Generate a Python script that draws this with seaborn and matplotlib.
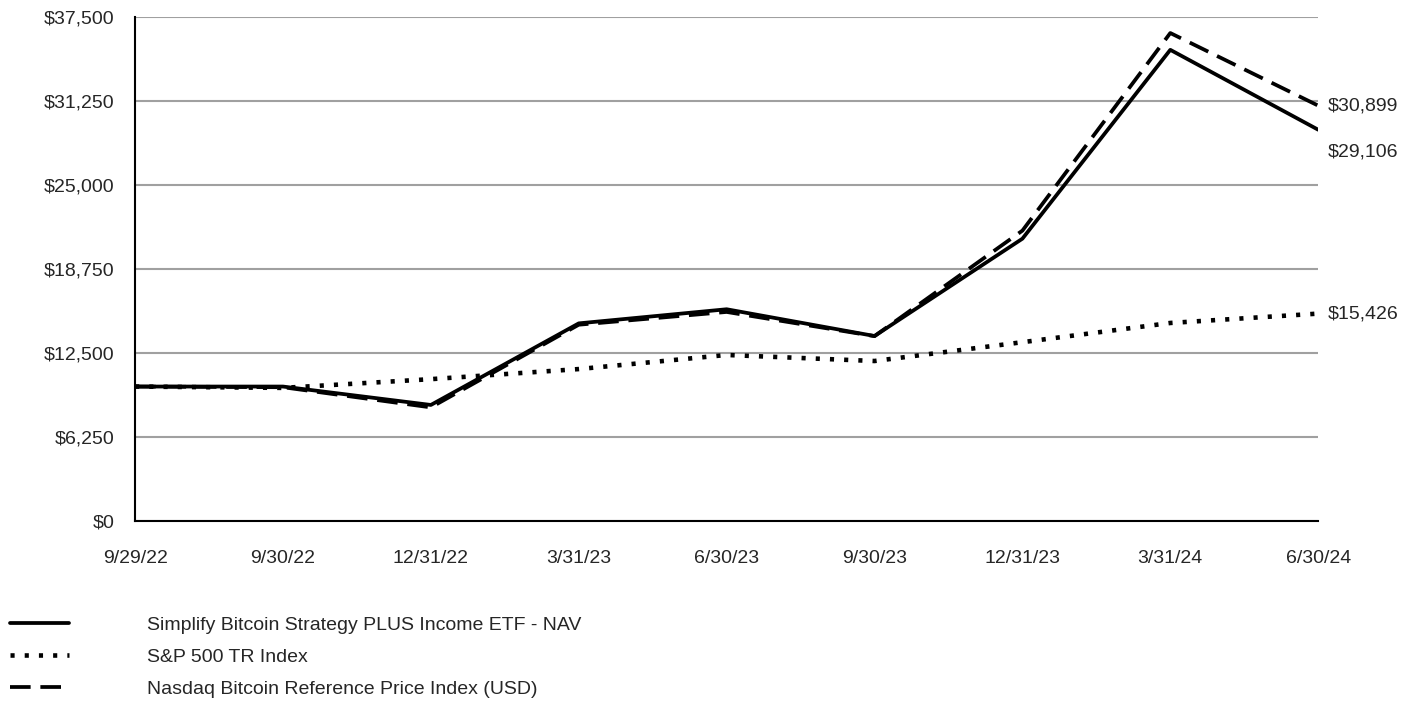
import pandas as pd
import numpy as np
import matplotlib
matplotlib.use('Agg')
import matplotlib.pyplot as plt
import seaborn as sns

sns.set_style('white')
plt.rcParams['font.family'] = ['Liberation Sans', 'DejaVu Sans']

dates = ['9/29/22', '9/30/22', '12/31/22', '3/31/23', '6/30/23', '9/30/23', '12/31/23', '3/31/24', '6/30/24']
nav = [10000, 10000, 8630, 14700, 15750, 13760, 21000, 35050, 29106]
sp500 = [10000, 9900, 10550, 11300, 12350, 11900, 13300, 14730, 15426]
nasdaq = [10000, 9950, 8450, 14600, 15550, 13750, 21600, 36300, 30899]

names = ['Simplify Bitcoin Strategy PLUS Income ETF - NAV',
         'S&P 500 TR Index',
         'Nasdaq Bitcoin Reference Price Index (USD)']

df = pd.DataFrame({'x': list(range(len(dates))) * 3,
                   'value': nav + sp500 + nasdaq,
                   'series': [n for n in names for _ in dates]})

fig = plt.figure(figsize=(14.22, 7.04), dpi=100)
ax = fig.add_axes([0.095, 0.26, 0.832, 0.716])

# (line width, dash pattern)
line_fmt = {names[0]: (2.7, None), names[1]: (3.3, (0.9, 2.2)), names[2]: (2.7, (5.5, 2.6))}
handles = []
for n in names:
    sub = df[df['series'] == n]
    lw, dash = line_fmt[n]
    sns.lineplot(data=sub, x='x', y='value', ax=ax, color='black', lw=lw, legend=False)
    line = ax.lines[-1]
    if dash is not None:
        line.set_dashes(dash)
        line.set_dash_capstyle('butt')
    handles.append(line)

ax.set_xlim(0, len(dates) - 1)
ax.set_ylim(0, 37500)
ax.set_yticks(np.arange(0, 37501, 6250))
ax.set_yticklabels(['${:,.0f}'.format(v) for v in np.arange(0, 37501, 6250)])
ax.set_xticks(range(len(dates)))
ax.set_xticklabels(dates)
ax.set_xlabel('')
ax.set_ylabel('')
ax.yaxis.grid(True, color='#a0a0a0', lw=1.5)
ax.xaxis.grid(False)
ax.tick_params(axis='both', length=0, labelsize=14)
ax.tick_params(axis='x', pad=21)
ax.tick_params(axis='y', pad=15)
for s in ['top', 'right']:
    ax.spines[s].set_visible(False)
for s in ['left', 'bottom']:
    ax.spines[s].set_color('black')
    ax.spines[s].set_linewidth(1.5)
ax.set_axisbelow(True)

# end labels
last = len(dates) - 1
ax.annotate('${:,.0f}'.format(nasdaq[-1]), (last, nasdaq[-1]), xytext=(7, 0),
            textcoords='offset points', va='center', fontsize=14, annotation_clip=False)
ax.annotate('${:,.0f}'.format(nav[-1]), (last, nav[-1]), xytext=(7, -16),
            textcoords='offset points', va='center', fontsize=14, annotation_clip=False)
ax.annotate('${:,.0f}'.format(sp500[-1]), (last, sp500[-1]), xytext=(7, 0),
            textcoords='offset points', va='center', fontsize=14, annotation_clip=False)

fig.legend(handles, names, loc='upper left', bbox_to_anchor=(-0.005, 0.15), frameon=False,
           fontsize=14, handlelength=3.0, labelspacing=0.75, handletextpad=4.0)

fig.savefig('out.png', dpi=100)
